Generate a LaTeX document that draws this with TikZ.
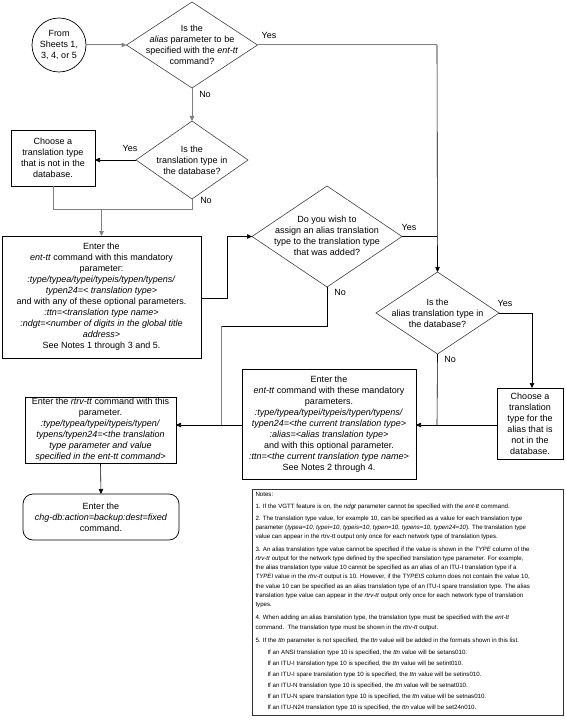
\documentclass[tikz,border=0pt]{standalone}
\usepackage{fontspec}
\setmainfont{Liberation Sans}
\usetikzlibrary{shapes.geometric,arrows.meta}
\begin{document}
\begin{tikzpicture}[x=1pt,y=-1pt,
  every node/.style={inner sep=0pt, outer sep=0pt},
  txt/.style={align=center, font=\fontsize{9}{11}\selectfont},
  box/.style={draw=black, line width=0.7pt, rectangle, txt},
  decision/.style={draw=black!75, line width=0.6pt, diamond},
  lbl/.style={font=\fontsize{9}{11}\selectfont},
  conn/.style={draw=black, line width=0.6pt},
  gconn/.style={draw=black!50, line width=1pt},
  arr/.style={-{Triangle[length=5pt,width=4.5pt]}},
  notestyle/.style={align=left, font=\fontsize{6.15}{9.1}\selectfont},
]
\useasboundingbox (0,0) rectangle (565,727);

% shapes
\node[circle, draw=black, line width=0.7pt, minimum size=54pt, txt] (start) at (59,45) {From\\Sheets 1,\\3, 4, or 5};

\node[decision, minimum width=131pt, minimum height=86pt] (d1) at (192,45) {};
\node[txt] (d1t) at (192,44.5) {Is the\\\textit{alias} parameter to be\\specified with the \textit{ent-tt}\\command?};

\node[decision, minimum width=112pt, minimum height=78pt] (d2) at (192,160) {};
\node[txt] (d2t) at (192,160) {Is the\\translation type in\\the database?};

\node[box, minimum width=84pt, minimum height=56pt] (b1) at (53,158) {Choose a\\translation type\\that is not in the\\database.};

\node[box, minimum width=199pt, minimum height=122pt] (b2) at (101.5,297) {Enter the\\\textit{ent-tt} command with this mandatory\\parameter:\\\textit{:type/typea/typei/typeis/typen/typens/}\\\textit{typen24=< translation type>}\\and with any of these optional parameters.\\\textit{:ttn=<translation type name>}\\\textit{:ndgt=<number of digits in the global title}\\\textit{address>}\\See Notes 1 through 3 and 5.};

\node[decision, minimum width=150pt, minimum height=101pt] (d4) at (327,236.5) {};
\node[txt] (d4t) at (327,236) {Do you wish to\\assign an alias translation\\type to the translation type\\that was added?};

\node[decision, minimum width=123pt, minimum height=82pt] (d5) at (437.5,313) {};
\node[txt] (d5t) at (437.5,313) {Is the\\alias translation type in\\the database?};

\node[box, minimum width=66pt, minimum height=71pt] (b4) at (530,423.5) {Choose a\\translation\\type for the\\alias that is\\not in the\\database.};

\node[box, minimum width=174pt, minimum height=110pt] (b3) at (329,424) {Enter the\\\textit{ent-tt} command with these mandatory\\parameters.\\\textit{:type/typea/typei/typeis/typen/typens/}\\\textit{typen24=<the current translation type>}\\\textit{:alias=<alias translation type>}\\and with this optional parameter.\\\textit{:ttn=<the current translation type name>}\\See Notes 2 through 4.};

\node[box, minimum width=151pt, minimum height=66pt] (b5) at (100.5,430) {Enter the \textit{rtrv-tt} command with this\\parameter.\\\textit{:type/typea/typei/typeis/typen/}\\\textit{typens/typen24=<the translation}\\\textit{type parameter and value}\\\textit{specified in the ent-tt command>}};

\node[box, rounded corners=10pt, minimum width=156pt, minimum height=46pt] (b6) at (101,517) {Enter the\\\textit{chg-db:action=backup:dest=fixed}\\command.};

% notes
\node[draw=black!80, line width=0.7pt, minimum width=311pt, minimum height=226pt, anchor=north west] (notes) at (252,489) {};
\node[notestyle, anchor=north west] (notestext) at (255.5,492.5) {Notes:\\[2.8pt]
1. If the VGTT feature is on, the \textit{ndgt} parameter cannot be specified with the \textit{ent-tt} command.\\[2.8pt]
2. The translation type value, for example 10, can be specified as a value for each translation type\\
parameter (\textit{typea=10, typei=10, typeis=10, typen=10, typens=10, typen24=10}). The translation type\\
value can appear in the rtrv-tt output only once for each network type of translation types.\\[3.8pt]
3. An alias translation type value cannot be specified if the value is shown in the \textit{TYPE} column of the\\
\textit{rtrv-tt} output for the network type defined by the specified translation type parameter. For example,\\
the alias translation type value 10 cannot be specified as an alias of an ITU-I translation type if a\\
\textit{TYPEI} value in the \textit{rtrv-tt} output is 10. However, if the \textit{TYPEIS} column does not contain the value 10,\\
the value 10 can be specified as an alias translation type of an ITU-I spare translation type. The alias\\
translation type value can appear in the \textit{rtrv-tt} output only once for each network type of translation\\
types.\\[4.6pt]
4. When adding an alias translation type, the translation type must be specified with the \textit{ent-tt}\\
command.\ \ The translation type must be shown in the \textit{rtrv-tt} output.\\[4.6pt]
5. If the \textit{ttn} parameter is not specified, the \textit{ttn} value will be added in the formats shown in this list.\\[2.6pt]
\hspace*{12pt}If an ANSI translation type 10 is specified, the \textit{ttn} value will be setans010.\\[2pt]
\hspace*{12pt}If an ITU-I translation type 10 is specified, the \textit{ttn} value will be setint010.\\[2pt]
\hspace*{12pt}If an ITU-I spare translation type 10 is specified, the \textit{ttn} value will be setins010.\\[2pt]
\hspace*{12pt}If an ITU-N translation type 10 is specified, the \textit{ttn} value will be setnat010.\\[2pt]
\hspace*{12pt}If an ITU-N spare translation type 10 is specified, the \textit{ttn} value will be setnas010.\\[2pt]
\hspace*{12pt}If an ITU-N24 translation type 10 is specified, the \textit{ttn} value will be set24n010.};

% junction coordinates
\coordinate (j1) at (437,45);
\coordinate (j2) at (192,210);
\coordinate (j3) at (227,298);
\coordinate (j4) at (532,313);
\coordinate (j5) at (437,425);
\coordinate (j6) at (221,326);

% connectors
\draw[gconn,arr] (start.east) -- (d1.west);
\draw[gconn,arr] (d1.south) -- (d2.north);
\draw[gconn] (d1.east) -- (j1);
\draw[conn,arr] (j1) -- (d5.north);
\draw[conn,arr] (d2.west) -- (b1.east |- d2.west);
\draw[gconn] (b1.south) -- (b1.south |- j2) -- (j2);
\draw[gconn] (d2.south) -- (j2);
\draw[gconn,arr] (b2.north |- j2) -- (b2.north);
\draw[conn,arr] (b2.east |- j3) -- (j3) |- (d4.west);
\draw[conn] (d4.east) -- (d4.east -| j1);
\draw[conn,arr] (d5.east) -- (j4) -- (j4 |- b4.north);
\draw[conn] (d5.south) -- (j5);
\draw[conn,arr] (b4.west |- j5) -- (b3.east |- j5);
\draw[conn] (d4.south) -- (d4.south |- j6) -- (j6);
\draw[gconn] (j6) -- (j6 |- j5);
\draw[conn,arr] (b3.west |- j5) -- (b5.east |- j5);
\draw[conn,arr] (b5.south) -- (b6.north);

% labels
\node[lbl] (y1) at (269,35) {Yes};
\node[lbl] (n1) at (205,94) {No};
\node[lbl] (y2) at (130,148) {Yes};
\node[lbl] (n2) at (206,200) {No};
\node[lbl] (y4) at (409,227) {Yes};
\node[lbl] (n4) at (340,292) {No};
\node[lbl] (y5) at (505,303) {Yes};
\node[lbl] (n5) at (450,359) {No};
\end{tikzpicture}
\end{document}
